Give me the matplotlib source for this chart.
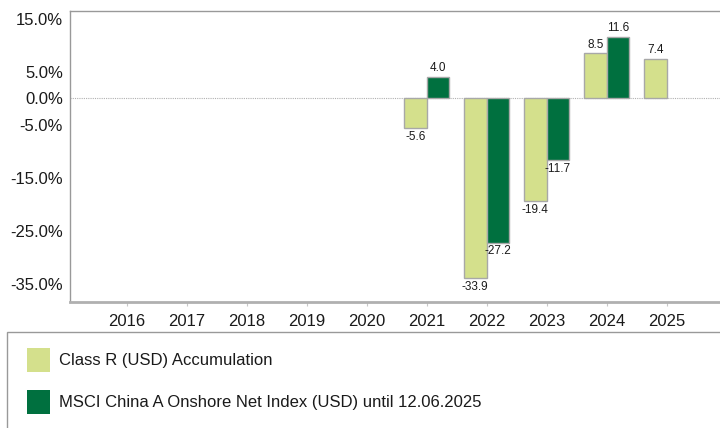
import numpy as np
import matplotlib
matplotlib.use("Agg")
import matplotlib.pyplot as plt
from matplotlib.patches import Rectangle

plt.rcParams['font.family'] = ['Liberation Sans', 'DejaVu Sans']

years = ["2016", "2017", "2018", "2019", "2020", "2021", "2022", "2023", "2024", "2025"]
fund = [np.nan, np.nan, np.nan, np.nan, np.nan, -5.6, -33.9, -19.4, 8.5, 7.4]
index = [np.nan, np.nan, np.nan, np.nan, np.nan, 4.0, -27.2, -11.7, 11.6, np.nan]
yticks = [15, 5, 0, -5, -15, -25, -35]
fund_name = "Class R (USD) Accumulation"
index_name = "MSCI China A Onshore Net Index (USD) until 12.06.2025"

light = "#d4e08c"
dark = "#00703f"
edge = "#a8a8a8"
txt = "#1a1a1a"

fig = plt.figure(figsize=(7.2, 4.28), dpi=100)
ax = fig.add_axes([70 / 720, 1 - 302 / 428, 650 / 720, 291 / 428])

x = np.arange(len(years))
w = 0.38
b1 = ax.bar(x - w / 2, fund, w, color=light, edgecolor=edge, linewidth=1)
b2 = ax.bar(x + w / 2, index, w, color=dark, edgecolor=edge, linewidth=1)

for bars, vals in ((b1, fund), (b2, index)):
    for rect, v in zip(bars, vals):
        if np.isnan(v):
            continue
        cx = rect.get_x() + rect.get_width() / 2
        if v >= 0:
            ax.annotate(f"{v:.1f}", (cx, v), xytext=(0, 2), textcoords="offset points",
                        ha="center", va="bottom", fontsize=8.5, color=txt)
        else:
            ax.annotate(f"{v:.1f}", (cx, v), xytext=(0, -2), textcoords="offset points",
                        ha="center", va="top", fontsize=8.5, color=txt)

ax.axhline(0, color="#b0b0b0", linestyle=(0, (1, 1)), linewidth=0.8, zorder=0)

ax.set_xlim(-0.945, 9.89)
ax.set_ylim(-38.4, 16.5)
ax.set_yticks(yticks)
ax.set_yticklabels([f"{t:.1f}%" for t in yticks], fontsize=12, color=txt)
ax.set_xticks(x)
ax.set_xticklabels(years, fontsize=12, color=txt)
ax.tick_params(axis="y", length=0, pad=5)
ax.tick_params(axis="x", length=3, color="#c8c8c8", pad=6)

for s in ("left", "top"):
    ax.spines[s].set_color("#999999")
    ax.spines[s].set_linewidth(1)
ax.spines["bottom"].set_color("#b0b0b0")
ax.spines["bottom"].set_linewidth(2)
ax.spines["right"].set_visible(False)

# legend box
fig.add_artist(Rectangle((7 / 720, -0.1), 1.2, (428 - 332) / 428 + 0.1,
                         transform=fig.transFigure, facecolor="none",
                         edgecolor="#999999", linewidth=1))
for i, (name, col) in enumerate(((fund_name, light), (index_name, dark))):
    yc = 360 + i * 42
    fig.add_artist(Rectangle((27 / 720, 1 - (yc + 12) / 428), 23 / 720, 24 / 428,
                             transform=fig.transFigure, facecolor=col, edgecolor="none"))
    fig.text(59 / 720, 1 - yc / 428, name, fontsize=12, color=txt, va="center", ha="left")

fig.savefig("out.png", dpi=100)
